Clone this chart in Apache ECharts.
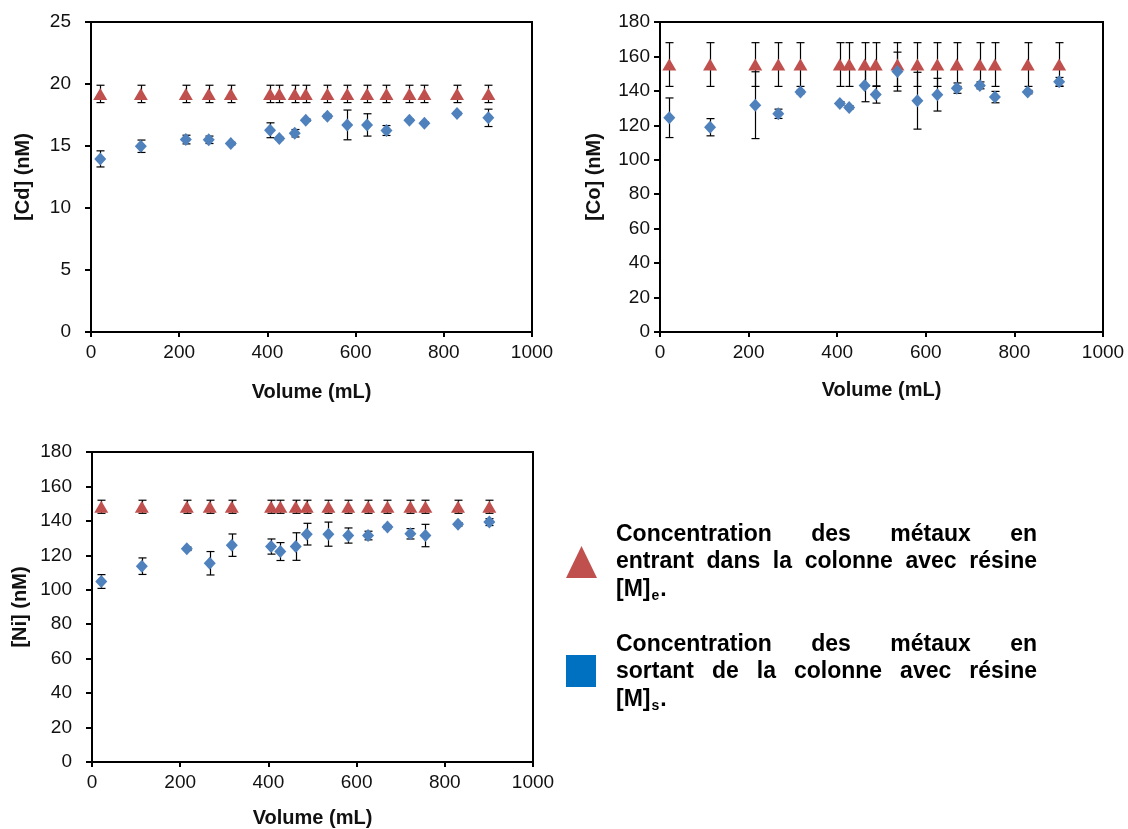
<!DOCTYPE html>
<html>
<head>
<meta charset="utf-8">
<script src="https://cdn.jsdelivr.net/npm/echarts@6/dist/echarts.min.js"></script>
<style>
  html, body { margin: 0; padding: 0; background: #fff; }
  #chart { width: 1128px; height: 829px; }
</style>
</head>
<body>
<div id="chart"></div>
<script>
// Volume passed through the column (mL), shared by the three panels
const volumes = [21, 113, 215, 267, 317, 406, 427, 462, 487, 536, 581, 626, 670, 722, 756, 830, 901];

// Cadmium (nM)
const cdIn     = [19.2, 19.2, 19.2, 19.2, 19.2, 19.2, 19.2, 19.2, 19.2, 19.2, 19.2, 19.2, 19.2, 19.2, 19.2, 19.2, 19.2];
const cdInErr  = [0.7, 0.7, 0.7, 0.7, 0.7, 0.7, 0.7, 0.7, 0.7, 0.7, 0.7, 0.7, 0.7, 0.7, 0.7, 0.7, 0.7];
const cdOut    = [13.96, 14.98, 15.52, 15.5, 15.2, 16.27, 15.6, 16.03, 17.08, 17.4, 16.7, 16.7, 16.25, 17.08, 16.84, 17.62, 17.27];
const cdOutErr = [0.65, 0.5, 0.35, 0.3, 0.1, 0.6, 0.1, 0.3, 0.1, 0.15, 1.2, 0.9, 0.4, 0.1, 0.1, 0.1, 0.7];

// Cobalt (nM)
const coIn     = [155.3, 155.3, 155.3, 155.3, 155.3, 155.3, 155.3, 155.3, 155.3, 155.3, 155.3, 155.3, 155.3, 155.3, 155.3, 155.3, 155.3];
const coInErr  = [12.7, 12.7, 12.7, 12.7, 12.7, 12.7, 12.7, 12.7, 12.7, 12.7, 12.7, 12.7, 12.7, 12.7, 12.7, 12.7, 12.7];
const coOut    = [124.4, 118.9, 131.7, 126.7, 139.3, 132.7, 130.4, 143.2, 137.9, 151.2, 134.3, 137.8, 141.6, 143.2, 136.4, 139.3, 145.3];
const coOutErr = [11.5, 5, 19.4, 2.7, 1, 1, 1, 9.5, 5, 11.3, 16.5, 9.5, 3, 2, 3.3, 1, 2.5];

// Nickel (nM)
const niIn     = [148.2, 148.2, 148.2, 148.2, 148.2, 148.2, 148.2, 148.2, 148.2, 148.2, 148.2, 148.2, 148.2, 148.2, 148.2, 148.2, 148.2];
const niInErr  = [3.8, 3.8, 3.8, 3.8, 3.8, 3.8, 3.8, 3.8, 3.8, 3.8, 3.8, 3.8, 3.8, 3.8, 3.8, 3.8, 3.8];
const niOut    = [104.8, 113.7, 123.8, 115.4, 125.9, 125.1, 122.2, 125.1, 132.3, 132.3, 131.5, 131.5, 136.4, 132.5, 131.5, 138, 139.3];
const niOutErr = [4, 4.8, 1, 6.8, 6.5, 4.4, 5.2, 8, 6.3, 7, 4.4, 2.5, 1, 3, 6.5, 1, 2];

// Axis text
const xTitle = 'Volume (mL)';
const yTitles = ['[Cd] (nM)', '[Co] (nM)', '[Ni] (nM)'];

// Legend text
const legendIn  = ['Concentration des métaux en', 'entrant dans la colonne avec résine'];
const legendOut = ['Concentration des métaux en', 'sortant de la colonne avec résine'];

const RED = '#C0504D';
const BLUE = '#4F81BD';
const FONT = '"Liberation Sans", Arial, sans-serif';

const chart = echarts.init(document.getElementById('chart'), null, { renderer: 'canvas' });

const grids = [
  { left: 91,  top: 22,  width: 441, height: 310 },
  { left: 660, top: 22,  width: 443, height: 310 },
  { left: 92,  top: 452, width: 441, height: 310 }
];

const panels = [
  { inV: cdIn, inE: cdInErr, outV: cdOut, outE: cdOutErr, yMax: 25,  yInt: 5,  yMargin: 20, yGap: 58, xGap: 50 },
  { inV: coIn, inE: coInErr, outV: coOut, outE: coOutErr, yMax: 180, yInt: 20, yMargin: 10, yGap: 56, xGap: 48 },
  { inV: niIn, inE: niInErr, outV: niOut, outE: niOutErr, yMax: 180, yInt: 20, yMargin: 20, yGap: 62, xGap: 46 }
];

function renderErr(params, api) {
  const x = api.value(0);
  const lo = api.coord([x, api.value(1)]);
  const hi = api.coord([x, api.value(2)]);
  const cx = Math.round(lo[0]) + 0.5;
  const w = 4;
  const st = { stroke: '#000', lineWidth: 1.2 };
  return {
    type: 'group',
    children: [
      { type: 'line', shape: { x1: cx, y1: lo[1], x2: cx, y2: hi[1] }, style: st },
      { type: 'line', shape: { x1: cx - w, y1: lo[1], x2: cx + w, y2: lo[1] }, style: st },
      { type: 'line', shape: { x1: cx - w, y1: hi[1], x2: cx + w, y2: hi[1] }, style: st }
    ]
  };
}

const xAxes = [], yAxes = [], series = [];
panels.forEach((p, i) => {
  xAxes.push({
    gridIndex: i, type: 'value', min: 0, max: 1000, interval: 200,
    name: xTitle, nameLocation: 'middle', nameGap: p.xGap,
    nameTextStyle: { fontFamily: FONT, fontSize: 20, fontWeight: 'bold', color: '#111' },
    axisLine: { show: true, onZero: false, lineStyle: { color: '#000', width: 2 } },
    axisTick: { show: true, length: 5, lineStyle: { color: '#000', width: 2 } },
    axisLabel: { fontFamily: FONT, fontSize: 19, color: '#111', margin: 11, formatter: v => String(v) },
    splitLine: { show: false }
  });
  yAxes.push({
    gridIndex: i, type: 'value', min: 0, max: p.yMax, interval: p.yInt,
    name: yTitles[i], nameLocation: 'middle', nameGap: p.yGap,
    nameTextStyle: { fontFamily: FONT, fontSize: 20, fontWeight: 'bold', color: '#111' },
    axisLine: { show: true, lineStyle: { color: '#000', width: 2 } },
    axisTick: { show: true, length: 6, lineStyle: { color: '#000', width: 2 } },
    axisLabel: { fontFamily: FONT, fontSize: 19, color: '#111', margin: p.yMargin, formatter: v => String(v) },
    splitLine: { show: false }
  });
  // error bars sit under the markers
  series.push({
    type: 'custom', xAxisIndex: i, yAxisIndex: i, z: 1,
    renderItem: renderErr, encode: { x: 0, y: [1, 2] },
    data: volumes.map((v, k) => [v, p.inV[k] - p.inE[k], p.inV[k] + p.inE[k]])
  });
  series.push({
    type: 'custom', xAxisIndex: i, yAxisIndex: i, z: 1,
    renderItem: renderErr, encode: { x: 0, y: [1, 2] },
    data: volumes.map((v, k) => [v, p.outV[k] - p.outE[k], p.outV[k] + p.outE[k]])
  });
  series.push({
    type: 'scatter', xAxisIndex: i, yAxisIndex: i, z: 3,
    symbol: 'triangle', symbolSize: [14, 12],
    itemStyle: { color: RED, opacity: 1 },
    data: volumes.map((v, k) => [v, p.inV[k]])
  });
  series.push({
    type: 'scatter', xAxisIndex: i, yAxisIndex: i, z: 3,
    symbol: 'diamond', symbolSize: [12, 13],
    itemStyle: { color: BLUE, opacity: 1 },
    data: volumes.map((v, k) => [v, p.outV[k]])
  });
});

// Justified legend text, laid out word by word
const measureCtx = document.createElement('canvas').getContext('2d');
const LEG_FONT = 'bold 23px ' + FONT;
function textWidth(t, font) { measureCtx.font = font; return measureCtx.measureText(t).width; }

const TXT_L = 616, TXT_R = 1037;
const graphics = [];
function justified(line, y) {
  const words = line.split(' ');
  const widths = words.map(w => textWidth(w, LEG_FONT));
  const total = widths.reduce((a, b) => a + b, 0);
  const gap = (TXT_R - TXT_L - total) / (words.length - 1);
  let x = TXT_L;
  words.forEach((w, k) => {
    graphics.push({ type: 'text', x: x, y: y, silent: true,
      style: { text: w, font: LEG_FONT, fill: '#000', textVerticalAlign: 'middle', textAlign: 'left' } });
    x += widths[k] + gap;
  });
}
function symbolLine(sub, y) {
  const mW = textWidth('[M]', LEG_FONT);
  const subFont = 'bold 14px ' + FONT;
  const sW = textWidth(sub, subFont);
  graphics.push({ type: 'text', x: TXT_L, y: y, silent: true,
    style: { text: '[M]', font: LEG_FONT, fill: '#000', textVerticalAlign: 'middle' } });
  graphics.push({ type: 'text', x: TXT_L + mW + 1, y: y + 6, silent: true,
    style: { text: sub, font: subFont, fill: '#000', textVerticalAlign: 'middle' } });
  graphics.push({ type: 'text', x: TXT_L + mW + sW + 2, y: y, silent: true,
    style: { text: '.', font: LEG_FONT, fill: '#000', textVerticalAlign: 'middle' } });
}

graphics.push({ type: 'polygon', silent: true,
  shape: { points: [[566, 578], [597, 578], [581.5, 546]] }, style: { fill: RED } });
graphics.push({ type: 'rect', silent: true,
  shape: { x: 566, y: 655, width: 30, height: 32 }, style: { fill: '#0070C0' } });

justified(legendIn[0], 535);
justified(legendIn[1], 562);
symbolLine('e', 590);
justified(legendOut[0], 645);
justified(legendOut[1], 672);
symbolLine('s', 700);

chart.setOption({
  animation: false,
  backgroundColor: '#fff',
  grid: grids.map(g => Object.assign({ show: true, borderColor: '#000', borderWidth: 2, backgroundColor: 'transparent' }, g)),
  xAxis: xAxes,
  yAxis: yAxes,
  series: series,
  graphic: { elements: graphics }
});
</script>
</body>
</html>
